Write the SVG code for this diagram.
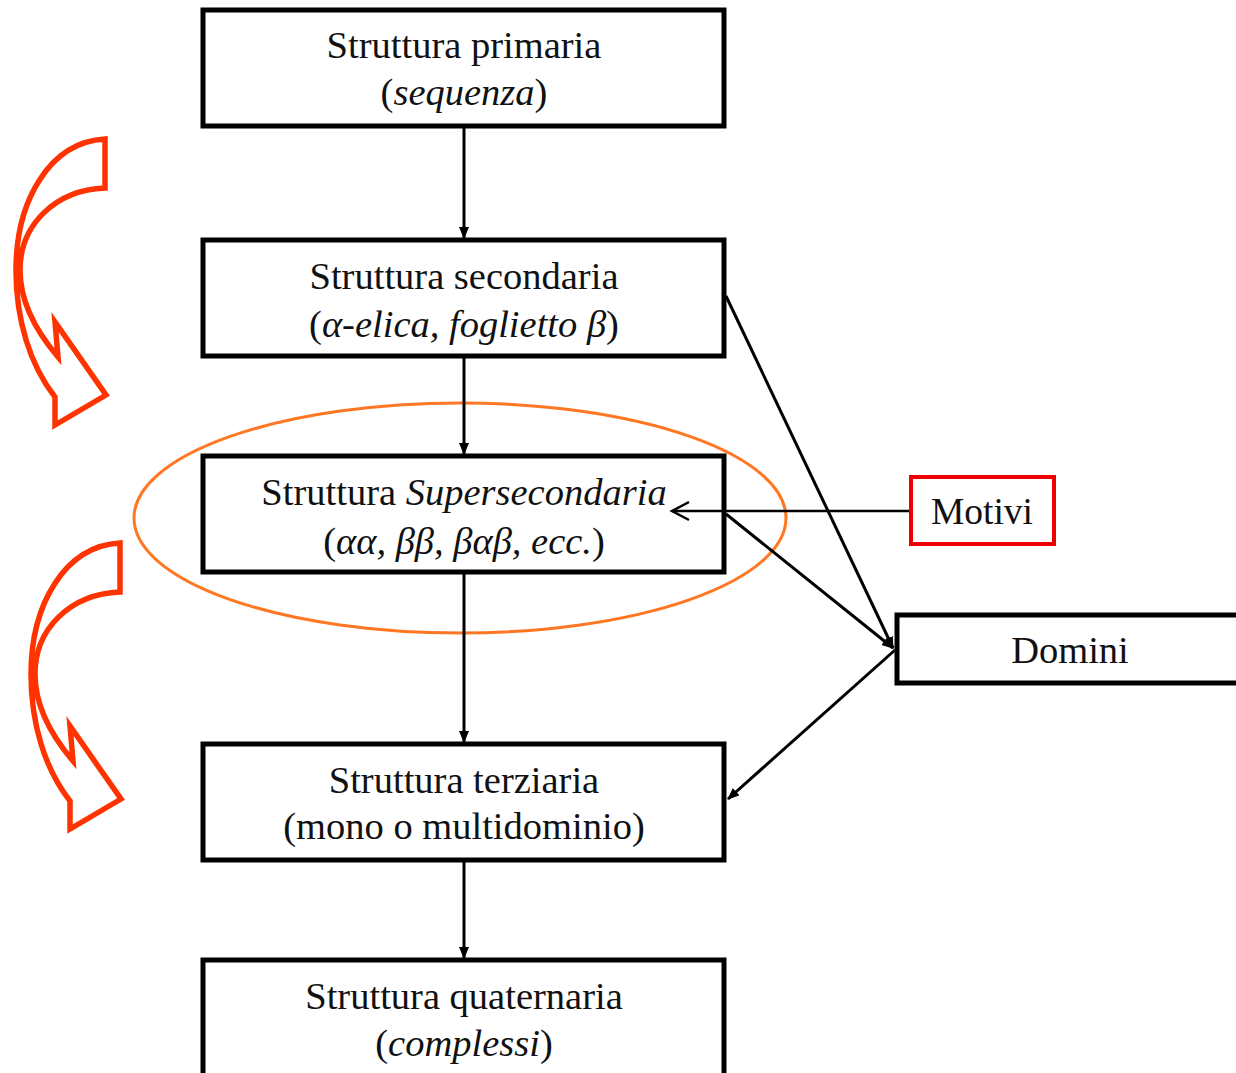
<svg xmlns="http://www.w3.org/2000/svg" width="1236" height="1073" viewBox="0 0 1236 1073">
<style>
.box{fill:#fff;stroke:#000;stroke-width:5}
.t{font-family:"Liberation Serif","Times New Roman",serif;font-size:38.5px;fill:#111;text-anchor:middle}
.i{font-style:italic}
.c{stroke:#000;stroke-width:3;fill:none}
.big{fill:none;stroke:#FF3300;stroke-width:5.5;stroke-linejoin:miter}
</style>
<defs>
<marker id="ah" markerWidth="12" markerHeight="12" refX="11" refY="5" orient="auto" markerUnits="userSpaceOnUse">
<path d="M0,0 L12,5 L0,10 Z" fill="#000"/>
</marker>
<path id="curv" d="M105,139 C50,142 16,200 16,270 C16,320 30,365 55,397 L55,425 L106,395 L55,322 L58,357 C35,330 20,300 20,270 C20,225 55,190 105,188 Z"/>
</defs>
<g id="bigarrows">
<use href="#curv" class="big"/>
<use href="#curv" class="big" transform="translate(15,404)"/>
</g>
<g id="primaria">
<rect class="box" x="203" y="10" width="521" height="116"/>
<text class="t" x="464" y="58">Struttura primaria</text>
<text class="t" x="464" y="105">(<tspan class="i">sequenza</tspan>)</text>
</g>
<g id="secondaria">
<rect class="box" x="203" y="240" width="521" height="116"/>
<text class="t" x="464" y="289">Struttura secondaria</text>
<text class="t" x="464" y="337">(<tspan class="i">α-elica, foglietto β</tspan>)</text>
</g>
<g id="supersecondaria">
<rect class="box" x="203" y="456" width="521" height="116"/>
<text class="t" x="464" y="505">Struttura <tspan class="i">Supersecondaria</tspan></text>
<text class="t" x="464" y="554">(<tspan class="i">αα, ββ, βαβ, ecc.</tspan>)</text>
</g>
<g id="terziaria">
<rect class="box" x="203" y="744" width="521" height="116"/>
<text class="t" x="464" y="793">Struttura terziaria</text>
<text class="t" x="464" y="839">(mono o multidominio)</text>
</g>
<g id="quaternaria">
<rect class="box" x="203" y="960" width="521" height="130"/>
<text class="t" x="464" y="1009">Struttura quaternaria</text>
<text class="t" x="464" y="1056">(<tspan class="i">complessi</tspan>)</text>
</g>
<g id="ellipse">
<ellipse cx="460" cy="518" rx="326" ry="115" fill="none" stroke="#FF7722" stroke-width="3"/>
</g>
<g id="motivi">
<rect x="911" y="477" width="143" height="67" fill="#fff" stroke="#EE0000" stroke-width="4"/>
<text class="t" x="982" y="524" style="font-size:37.5px">Motivi</text>
</g>
<g id="domini">
<rect class="box" x="897" y="615" width="345" height="68"/>
<text class="t" x="1070" y="663">Domini</text>
</g>
<g id="connectors">
<line class="c" x1="464" y1="128" x2="464" y2="238" marker-end="url(#ah)"/>
<line class="c" x1="464" y1="358" x2="464" y2="454" marker-end="url(#ah)"/>
<line class="c" x1="464" y1="574" x2="464" y2="742" marker-end="url(#ah)"/>
<line class="c" x1="464" y1="862" x2="464" y2="958" marker-end="url(#ah)"/>
<line class="c" x1="726" y1="296" x2="893" y2="648" marker-end="url(#ah)"/>
<line class="c" x1="726" y1="514" x2="893" y2="648" marker-end="url(#ah)"/>
<line class="c" x1="895" y1="650" x2="728" y2="799" marker-end="url(#ah)"/>
<line x1="909" y1="511" x2="672" y2="511" stroke="#000" stroke-width="2.5"/>
<polyline points="689,502 672,511 689,520" fill="none" stroke="#000" stroke-width="2.5"/>
</g>
</svg>
